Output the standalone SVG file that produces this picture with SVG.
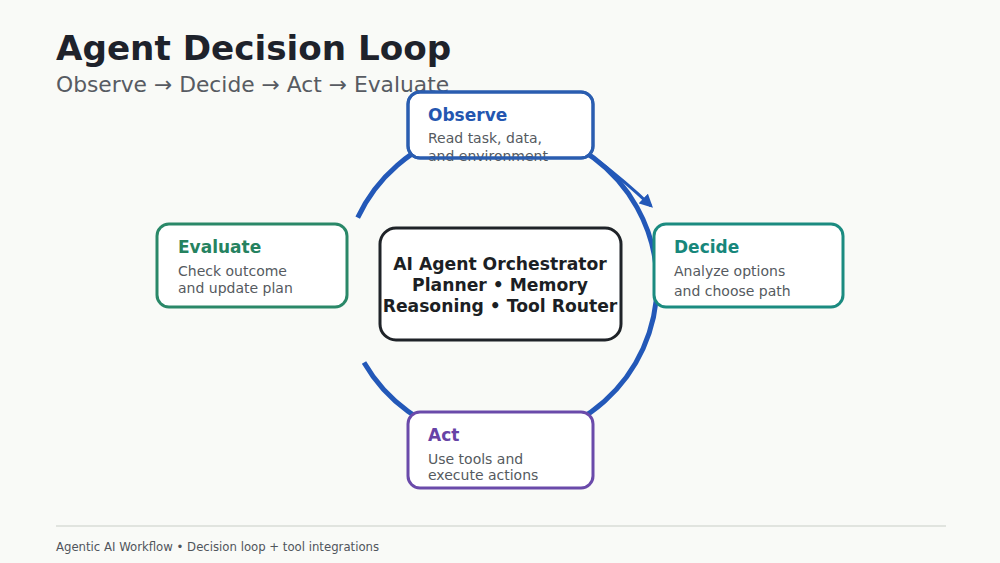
<svg xmlns="http://www.w3.org/2000/svg" width="1000" height="563" viewBox="0 0 1000 563">
  <defs>
    <marker id="ah" viewBox="0 0 10 10" refX="8" refY="5" markerWidth="4.5" markerHeight="4.5" orient="auto" markerUnits="strokeWidth">
      <path d="M0,0 L10,5 L0,10 z" fill="#2358b8"/>
    </marker>
    <style>
      .t{font-family:"DejaVu Sans","Liberation Sans",sans-serif}
      .box{fill:#ffffff;stroke-width:3}
      .ht{font-size:17px;font-weight:bold}
      .sub{font-size:14px;fill:#555a60}
      .ct{font-size:17.2px;font-weight:bold;fill:#1c1f24;text-anchor:middle}
      .loop{fill:none;stroke:#2358b8;stroke-width:5}
    </style>
  </defs>
  <rect x="0" y="0" width="1000" height="563" fill="#f9faf7"/>
  <text class="t" x="56" y="60" font-size="34.2" font-weight="bold" fill="#1e222b">Agent Decision Loop</text>
  <text class="t" x="56" y="92" font-size="21.8" fill="#575b62">Observe → Decide → Act → Evaluate</text>

  <g id="connectors">
    <path class="loop" d="M357.7,217.6 A157,157 0 1 1 364,362.5"/>
    <path d="M597,160 Q626,182 651,206" fill="none" stroke="#2358b8" stroke-width="3" marker-end="url(#ah)"/>
  </g>

  <g id="observe">
    <rect class="box" x="408" y="92" width="185" height="66" rx="12" stroke="#2a5db0"/>
    <text class="t ht" x="428" y="121" fill="#2456b0">Observe</text>
    <text class="t sub" x="428" y="143">Read task, data,</text>
    <text class="t sub" x="428" y="161">and environment</text>
    <rect x="408" y="92" width="185" height="66" rx="12" fill="none" stroke="#2a5db0" stroke-width="3"/>
  </g>

  <g id="decide">
    <rect class="box" x="654" y="224" width="189" height="83" rx="12" stroke="#1b8b80"/>
    <text class="t ht" x="674" y="253" fill="#17877b">Decide</text>
    <text class="t sub" x="674" y="276">Analyze options</text>
    <text class="t sub" x="674" y="296">and choose path</text>
  </g>

  <g id="evaluate">
    <rect class="box" x="157" y="224" width="190" height="83" rx="12" stroke="#2a8868"/>
    <text class="t ht" x="178" y="253" fill="#25825f">Evaluate</text>
    <text class="t sub" x="178" y="276">Check outcome</text>
    <text class="t sub" x="178" y="293">and update plan</text>
  </g>

  <g id="act">
    <rect class="box" x="408" y="412" width="185" height="76" rx="12" stroke="#6a4aaa"/>
    <text class="t ht" x="428" y="441" fill="#6743a6">Act</text>
    <text class="t sub" x="428" y="464">Use tools and</text>
    <text class="t sub" x="428" y="480">execute actions</text>
  </g>

  <g id="orchestrator">
    <rect class="box" x="380" y="228" width="241" height="112" rx="16" stroke="#1f2328"/>
    <text class="t ct" x="500" y="270">AI Agent Orchestrator</text>
    <text class="t ct" x="500" y="291">Planner • Memory</text>
    <text class="t ct" x="500" y="312">Reasoning • Tool Router</text>
  </g>

  <line x1="56" y1="526" x2="946" y2="526" stroke="#d9dcd7" stroke-width="1.5"/>
  <text x="56" y="551" font-family="'DejaVu Sans Condensed','Liberation Sans Narrow','Liberation Sans',sans-serif" font-size="13" fill="#50555c">Agentic AI Workflow • Decision loop + tool integrations</text>
</svg>
